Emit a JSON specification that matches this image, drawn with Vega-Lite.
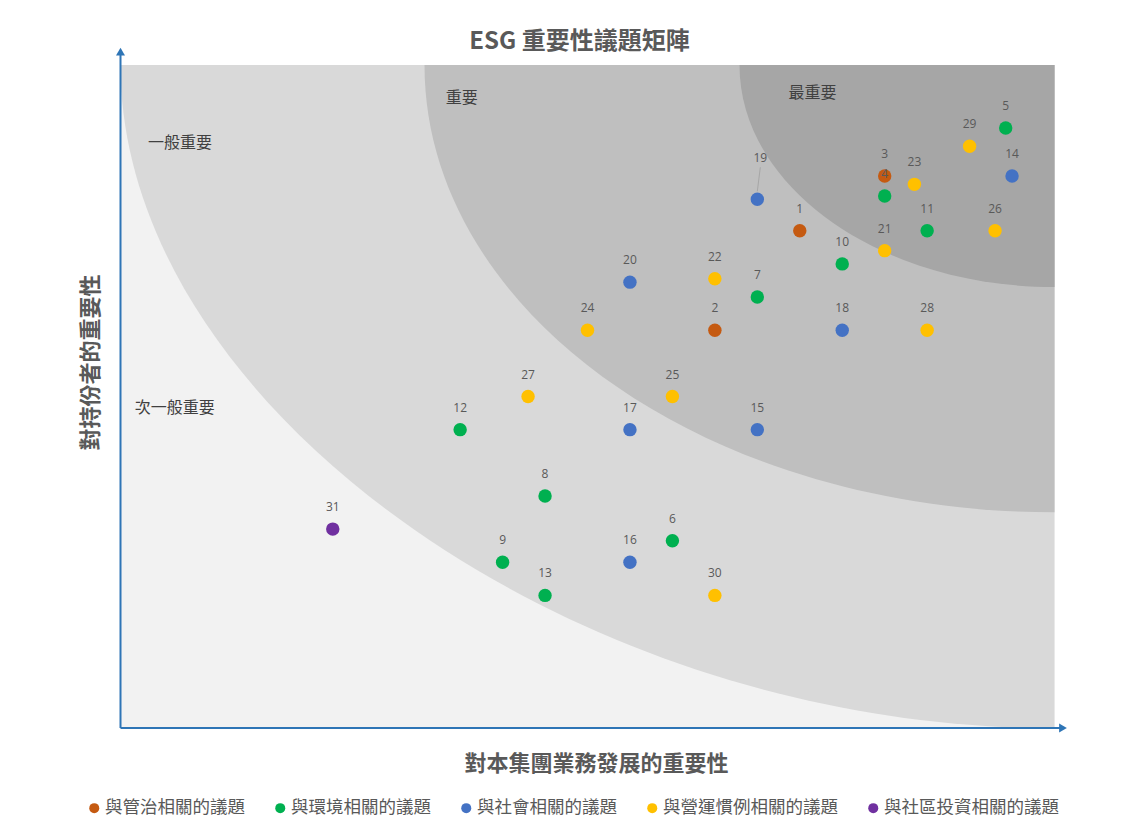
{
  "$schema": "https://vega.github.io/schema/vega-lite/v6.json",
  "width": 934,
  "height": 663,
  "autosize": {"type": "none"},
  "padding": {"left": 120.5, "top": 65, "right": 73.5, "bottom": 96},
  "background": "white",
  "config": {
    "view": {"fill": "#f2f2f2", "stroke": null},
    "font": "Noto Sans CJK TC",
    "axis": {
      "domain": false,
      "ticks": false,
      "labels": false,
      "grid": false,
      "titleFont": "Noto Sans CJK TC",
      "titleFontSize": 22,
      "titleFontWeight": "bold",
      "titleColor": "#595959",
      "titleBaseline": "middle"
    },
    "axisX": {"titleX": 475.5, "titleY": 35.5},
    "axisY": {"titleX": -30.5, "titleY": 297}
  },
  "title": {
    "text": "ESG 重要性議題矩陣",
    "fontSize": 24,
    "font": "Noto Sans CJK TC",
    "fontWeight": "bold",
    "color": "#595959",
    "anchor": "middle",
    "offset": 14,
    "dy": 20,
    "dx": -8
  },
  "datasets": {
    "zones": [
      {"zone": "一般重要", "x": 22, "y": 20},
      {"zone": "重要", "x": 22, "y": 20},
      {"zone": "最重要", "x": 22, "y": 20}
    ],
    "zoneLabels": [
      {"label": "一般重要", "x": 1.4, "y": 17.66},
      {"label": "次一般重要", "x": 1.28, "y": 9.64},
      {"label": "重要", "x": 8.04, "y": 18.99},
      {"label": "最重要", "x": 16.3, "y": 19.17}
    ],
    "issues": [
      {"id": 1, "cat": "與管治相關的議題", "x": 16, "y": 15},
      {"id": 2, "cat": "與管治相關的議題", "x": 14, "y": 12},
      {"id": 3, "cat": "與管治相關的議題", "x": 18, "y": 16.65},
      {"id": 4, "cat": "與環境相關的議題", "x": 18, "y": 16.05},
      {"id": 5, "cat": "與環境相關的議題", "x": 20.85, "y": 18.1},
      {"id": 6, "cat": "與環境相關的議題", "x": 13, "y": 5.65},
      {"id": 7, "cat": "與環境相關的議題", "x": 15, "y": 13},
      {"id": 8, "cat": "與環境相關的議題", "x": 10, "y": 7},
      {"id": 9, "cat": "與環境相關的議題", "x": 9, "y": 5},
      {"id": 10, "cat": "與環境相關的議題", "x": 17, "y": 14},
      {"id": 11, "cat": "與環境相關的議題", "x": 19, "y": 15},
      {"id": 12, "cat": "與環境相關的議題", "x": 8, "y": 9},
      {"id": 13, "cat": "與環境相關的議題", "x": 10, "y": 4},
      {"id": 14, "cat": "與社會相關的議題", "x": 21, "y": 16.65},
      {"id": 15, "cat": "與社會相關的議題", "x": 15, "y": 9},
      {"id": 16, "cat": "與社會相關的議題", "x": 12, "y": 5},
      {"id": 17, "cat": "與社會相關的議題", "x": 12, "y": 9},
      {"id": 18, "cat": "與社會相關的議題", "x": 17, "y": 12},
      {"id": 19, "cat": "與社會相關的議題", "x": 15, "y": 15.95},
      {"id": 20, "cat": "與社會相關的議題", "x": 12, "y": 13.45},
      {"id": 21, "cat": "與營運慣例相關的議題", "x": 18, "y": 14.4},
      {"id": 22, "cat": "與營運慣例相關的議題", "x": 14, "y": 13.55},
      {"id": 23, "cat": "與營運慣例相關的議題", "x": 18.7, "y": 16.4},
      {"id": 24, "cat": "與營運慣例相關的議題", "x": 11, "y": 12},
      {"id": 25, "cat": "與營運慣例相關的議題", "x": 13, "y": 10},
      {"id": 26, "cat": "與營運慣例相關的議題", "x": 20.6, "y": 15},
      {"id": 27, "cat": "與營運慣例相關的議題", "x": 9.6, "y": 10},
      {"id": 28, "cat": "與營運慣例相關的議題", "x": 19, "y": 12},
      {"id": 29, "cat": "與營運慣例相關的議題", "x": 20, "y": 17.55},
      {"id": 30, "cat": "與營運慣例相關的議題", "x": 14, "y": 4},
      {"id": 31, "cat": "與社區投資相關的議題", "x": 5, "y": 6}
    ]
  },
  "resolve": {"scale": {"color": "independent", "size": "independent", "shape": "independent"}},
  "layer": [
    {
      "data": {"name": "zones"},
      "mark": {
        "type": "point",
        "filled": true,
        "opacity": 1,
        "strokeWidth": 0,
        "clip": true
      },
      "encoding": {
        "x": {"field": "x", "type": "quantitative", "scale": {"domain": [0, 22], "nice": false, "zero": false}, "title": "對本集團業務發展的重要性"},
        "y": {"field": "y", "type": "quantitative", "scale": {"domain": [0, 20], "nice": false, "zero": false}, "title": "對持份者的重要性"},
        "color": {
          "field": "zone",
          "type": "nominal",
          "scale": {"type": "ordinal", "domain": ["一般重要", "重要", "最重要"], "range": ["#d9d9d9", "#bfbfbf", "#a6a6a6"]},
          "legend": null
        },
        "shape": {
          "field": "zone",
          "type": "nominal",
          "scale": {
            "type": "ordinal",
            "domain": ["一般重要", "重要", "最重要"],
            "range": [
              "M -1 0 C -1 -0.3657 -0.515 -0.71 0 -0.71 C 0.515 -0.71 1 -0.3657 1 0 C 1 0.3657 0.515 0.71 0 0.71 C -0.515 0.71 -1 0.3657 -1 0 Z",
              "M -1 0 C -1 -0.3921 -0.5523 -0.71 0 -0.71 C 0.5523 -0.71 1 -0.3921 1 0 C 1 0.3921 0.5523 0.71 0 0.71 C -0.5523 0.71 -1 0.3921 -1 0 Z",
              "M -1 0 C -1 -0.3894 -0.5523 -0.705 0 -0.705 C 0.5523 -0.705 1 -0.3894 1 0 C 1 0.3894 0.5523 0.705 0 0.705 C -0.5523 0.705 -1 0.3894 -1 0 Z"
            ]
          },
          "legend": null
        },
        "size": {
          "field": "zone",
          "type": "nominal",
          "scale": {"type": "ordinal", "domain": ["一般重要", "重要", "最重要"], "range": [3489424, 1587600, 396900]},
          "legend": null
        }
      }
    },
    {
      "data": {"name": "zoneLabels"},
      "mark": {"type": "text", "fontSize": 16, "color": "#404040", "align": "center", "baseline": "middle", "font": "Noto Sans CJK TC"},
      "encoding": {
        "x": {"field": "x", "type": "quantitative", "title": "對本集團業務發展的重要性"},
        "y": {"field": "y", "type": "quantitative", "title": "對持份者的重要性"},
        "text": {"field": "label"}
      }
    },
    {
      "data": {"values": [{}]},
      "mark": {"type": "rule", "color": "#2E75B6", "strokeWidth": 2},
      "encoding": {
        "x": {"datum": 0, "type": "quantitative", "title": "對本集團業務發展的重要性"},
        "y": {"datum": 0, "type": "quantitative", "title": "對持份者的重要性"},
        "y2": {"datum": 20.4}
      }
    },
    {
      "data": {"values": [{}]},
      "mark": {"type": "rule", "color": "#2E75B6", "strokeWidth": 2},
      "encoding": {
        "x": {"datum": 0, "type": "quantitative", "title": "對本集團業務發展的重要性"},
        "x2": {"datum": 22.2},
        "y": {"datum": 0, "type": "quantitative", "title": "對持份者的重要性"}
      }
    },
    {
      "data": {"values": [{}]},
      "mark": {"type": "point", "shape": "triangle-up", "filled": true, "opacity": 1, "color": "#2E75B6", "size": 80},
      "encoding": {
        "x": {"datum": 0, "type": "quantitative", "title": "對本集團業務發展的重要性"},
        "y": {"datum": 20.4, "type": "quantitative", "title": "對持份者的重要性"}
      }
    },
    {
      "data": {"values": [{}]},
      "mark": {"type": "point", "shape": "triangle-right", "filled": true, "opacity": 1, "color": "#2E75B6", "size": 80},
      "encoding": {
        "x": {"datum": 22.2, "type": "quantitative", "title": "對本集團業務發展的重要性"},
        "y": {"datum": 0, "type": "quantitative", "title": "對持份者的重要性"}
      }
    },
    {
      "data": {"name": "issues"},
      "transform": [{"filter": "datum.id == 19"}],
      "mark": {"type": "rule", "color": "#a0a0a0", "strokeWidth": 0.8, "yOffset": -8, "y2Offset": -32, "x2Offset": 3},
      "encoding": {
        "x": {"field": "x", "type": "quantitative", "title": "對本集團業務發展的重要性"},
        "y": {"field": "y", "type": "quantitative", "title": "對持份者的重要性"},
        "x2": {"field": "x"},
        "y2": {"field": "y"}
      }
    },
    {
      "data": {"name": "issues"},
      "mark": {"type": "point", "filled": true, "opacity": 1, "size": 180, "strokeWidth": 0},
      "encoding": {
        "x": {"field": "x", "type": "quantitative", "title": "對本集團業務發展的重要性"},
        "y": {"field": "y", "type": "quantitative", "title": "對持份者的重要性"},
        "color": {
          "field": "cat",
          "type": "nominal",
          "scale": {
            "domain": ["與管治相關的議題", "與環境相關的議題", "與社會相關的議題", "與營運慣例相關的議題", "與社區投資相關的議題"],
            "range": ["#C55A11", "#00B050", "#4472C4", "#FFC000", "#7030A0"]
          },
          "legend": {
            "title": null,
            "orient": "none",
            "direction": "horizontal",
            "columns": 5,
            "legendX": -35,
            "legendY": 734,
            "symbolType": "circle",
            "symbolSize": 100,
            "symbolStrokeWidth": 0,
            "labelFont": "Noto Sans CJK TC",
            "labelFontSize": 17.5,
            "labelColor": "#595959",
            "labelOffset": 2,
            "labelLimit": 0,
            "columnPadding": 26
          }
        }
      }
    },
    {
      "data": {"name": "issues"},
      "transform": [{"filter": "datum.id != 19"}],
      "mark": {"type": "text", "dy": -22, "fontSize": 12, "font": "Open Sans", "color": "#595959", "align": "center", "baseline": "middle"},
      "encoding": {
        "x": {"field": "x", "type": "quantitative", "title": "對本集團業務發展的重要性"},
        "y": {"field": "y", "type": "quantitative", "title": "對持份者的重要性"},
        "text": {"field": "id", "type": "nominal"}
      }
    },
    {
      "data": {"name": "issues"},
      "transform": [{"filter": "datum.id == 19"}],
      "mark": {"type": "text", "dy": -41, "dx": 3, "fontSize": 12, "font": "Open Sans", "color": "#595959", "align": "center", "baseline": "middle"},
      "encoding": {
        "x": {"field": "x", "type": "quantitative", "title": "對本集團業務發展的重要性"},
        "y": {"field": "y", "type": "quantitative", "title": "對持份者的重要性"},
        "text": {"field": "id", "type": "nominal"}
      }
    }
  ]
}
